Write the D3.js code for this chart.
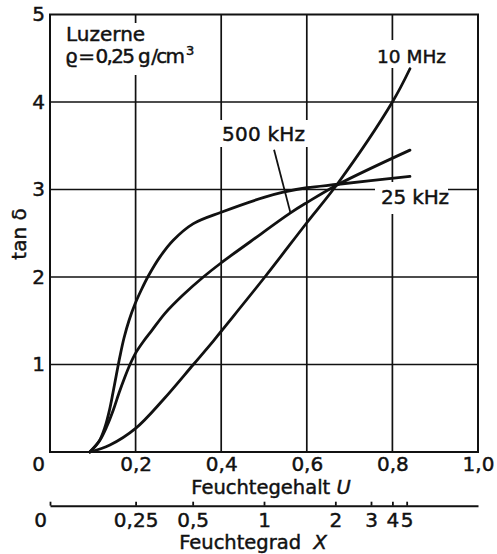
<!DOCTYPE html>
<html><head><meta charset="utf-8">
<script src="https://cdn.jsdelivr.net/npm/d3@7"></script>
<style>
body{margin:0;background:#fff}
svg{display:block}
text{font-family:"DejaVu Sans",sans-serif;fill:#111;stroke:#111;stroke-width:0.45px}
</style>
</head><body>
<svg id="c" width="497" height="554"></svg>
<script>
// ---- data ----
const uTicks = [0, 0.2, 0.4, 0.6, 0.8, 1.0];
const uTickLabels = ["0", "0,2", "0,4", "0,6", "0,8", "1,0"];
const yTicks = [1, 2, 3, 4, 5];
const yTickLabels = ["1", "2", "3", "4", "5"];
const xTicks = [0, 0.25, 0.5, 1, 2, 3, 4, 5];
const xTickLabels = ["0", "0,25", "0,5", "1", "2", "3", "4", "5"];
const gridU = [0.2, 0.4, 0.6, 0.8];
const gridT = [1, 2, 3, 4];

const u25k = [0.093, 0.1145, 0.1285, 0.139, 0.147, 0.155, 0.1636, 0.1729, 0.1846, 0.1986, 0.2138, 0.2297, 0.257, 0.288, 0.335, 0.4, 0.5, 0.545, 0.6, 0.674, 0.841];
const t25k = [0, 0.12, 0.286, 0.48, 0.674, 0.88, 1.097, 1.303, 1.503, 1.691, 1.857, 2.011, 2.23, 2.42, 2.61, 2.74, 2.91, 2.97, 3.02, 3.06, 3.15];
const u500k = [0.093, 0.1168, 0.1332, 0.1479, 0.1612, 0.1741, 0.1869, 0.2, 0.2173, 0.2381, 0.2687, 0.3107, 0.3582, 0.3995, 0.467, 0.561, 0.6, 0.674, 0.841];
const t500k = [0, 0.137, 0.297, 0.48, 0.674, 0.846, 1.0, 1.13, 1.257, 1.39, 1.585, 1.794, 2.0, 2.16, 2.40, 2.73, 2.85, 3.06, 3.45];
const u10M = [0.093, 0.14, 0.2, 0.265, 0.335, 0.382, 0.4, 0.502, 0.6, 0.674, 0.8, 0.841];
const t10M = [0, 0.08, 0.27, 0.6, 1.0, 1.27, 1.38, 2.0, 2.62, 3.08, 4.0, 4.38];

const seriesNames = ["25 kHz", "500 kHz", "10 MHz"];

// ---- chart ----
const svg = d3.select("#c");
const x = d3.scaleLinear().domain([0, 1]).range([50, 478]);
const y = d3.scaleLinear().domain([0, 5]).range([452, 14.5]);
const X2U = X => X / (1 + X);
const fs = 20;

// grid
const g = svg.append("g");
g.selectAll("line.v").data(gridU).join("line")
  .attr("x1", d => x(d)).attr("x2", d => x(d))
  .attr("y1", y(0)).attr("y2", y(5))
  .attr("stroke", "#111").attr("stroke-width", 1.7);
g.selectAll("line.h").data(gridT).join("line")
  .attr("x1", x(0)).attr("x2", x(1))
  .attr("y1", d => y(d)).attr("y2", d => y(d))
  .attr("stroke", "#111").attr("stroke-width", 1.7);

// white gaps behind labels
const gaps = [
  [60, 23, 140, 52],
  [372, 40, 76, 28],
  [218, 120, 92, 27],
  [375, 182, 73, 32]
];
svg.selectAll("rect.gap").data(gaps).join("rect")
  .attr("x", d => d[0]).attr("y", d => d[1]).attr("width", d => d[2]).attr("height", d => d[3])
  .attr("fill", "#fff");

// frame
svg.append("rect").attr("x", x(0)).attr("y", y(5))
  .attr("width", x(1) - x(0)).attr("height", y(0) - y(5))
  .attr("fill", "none").attr("stroke", "#111").attr("stroke-width", 2);

// curves
const line = d3.line().x(d => x(d[0])).y(d => y(d[1])).curve(d3.curveCatmullRom.alpha(0.5));
const series = [
  u25k.map((u, i) => [u, t25k[i]]),
  u500k.map((u, i) => [u, t500k[i]]),
  u10M.map((u, i) => [u, t10M[i]])
];
svg.selectAll("path.curve").data(series).join("path")
  .attr("d", line).attr("fill", "none")
  .attr("stroke", "#111").attr("stroke-width", 2.8)
  .attr("stroke-linecap", "round").attr("stroke-linejoin", "round");

// pointer for 500 kHz
svg.append("line")
  .attr("x1", x(0.5235)).attr("y1", y(3.455))
  .attr("x2", x(0.562)).attr("y2", y(2.73))
  .attr("stroke", "#111").attr("stroke-width", 1.8);

// axes
const ax = svg.append("g").attr("transform", `translate(0,${y(0)})`)
  .call(d3.axisBottom(x).tickValues(uTicks).tickSize(0).tickPadding(5)
    .tickFormat((d, i) => uTickLabels[i]));
ax.select(".domain").remove();
ax.selectAll("text").attr("font-size", fs).attr("font-family", "DejaVu Sans").attr("fill", "#111")
  .attr("dx", (d, i) => i === 0 ? -12 : 0);

const ay = svg.append("g").attr("transform", `translate(${x(0)},0)`)
  .call(d3.axisLeft(y).tickValues(yTicks).tickSize(0).tickPadding(5)
    .tickFormat((d, i) => yTickLabels[i]));
ay.select(".domain").remove();
ay.selectAll("text").attr("font-size", fs).attr("font-family", "DejaVu Sans").attr("fill", "#111");

const ax2 = svg.append("g").attr("transform", `translate(0,505.7)`)
  .call(d3.axisBottom(x).tickValues(xTicks.map(X2U)).tickSize(-4).tickSizeOuter(0).tickPadding(7)
    .tickFormat((d, i) => xTickLabels[i]));
ax2.select(".domain").attr("stroke", "#111").attr("stroke-width", 2);
ax2.selectAll("line").attr("stroke", "#111").attr("stroke-width", 1.8);
ax2.selectAll("text").attr("font-size", fs).attr("font-family", "DejaVu Sans").attr("fill", "#111")
  .attr("dx", (d, i) => i === 0 ? -10 : 0);

// axis titles
svg.append("text").attr("x", 271).attr("y", 494).attr("text-anchor", "middle")
  .attr("font-size", 19.5)
  .call(t => { t.append("tspan").text("Feuchtegehalt "); t.append("tspan").attr("font-style", "italic").text("U"); });
svg.append("text").attr("x", 253).attr("y", 549).attr("text-anchor", "middle")
  .attr("font-size", 19.5).attr("xml:space", "preserve")
  .call(t => { t.append("tspan").text("Feuchtegrad  "); t.append("tspan").attr("font-style", "italic").text("X"); });
svg.append("text").attr("transform", "translate(26,234) rotate(-90)").attr("text-anchor", "middle")
  .attr("font-size", fs).text("tan δ");

// annotations
svg.append("text").attr("x", 66).attr("y", 41).attr("font-size", fs).text("Luzerne");
svg.append("text").attr("x", 65).attr("y", 63).attr("font-size", fs).attr("textLength", 120)
  .text("ϱ\u2009=\u20090,25 g\u2009/cm");
svg.append("text").attr("x", 186).attr("y", 55).attr("font-size", 13).text("3");
svg.append("text").attr("x", 377).attr("y", 63).attr("font-size", 18.5).text(seriesNames[2]);
svg.append("text").attr("x", 222).attr("y", 141).attr("font-size", fs).attr("textLength", 83).text(seriesNames[1]);
svg.append("text").attr("x", 381).attr("y", 204).attr("font-size", fs).attr("textLength", 68).text(seriesNames[0]);
</script>
</body></html>
